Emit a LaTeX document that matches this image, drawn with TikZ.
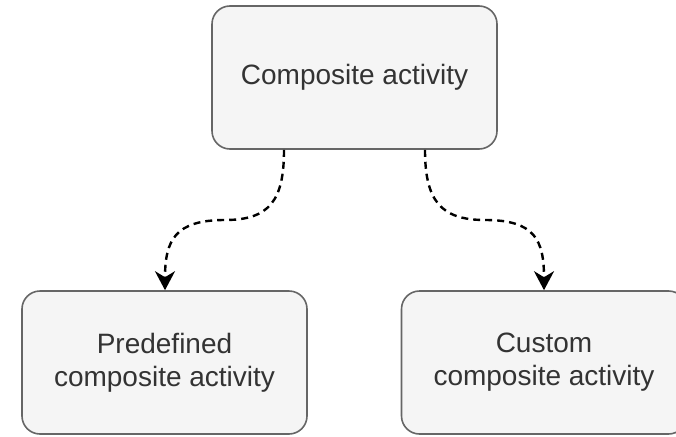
\documentclass[tikz,border=0pt]{standalone}
\usepackage{fontspec}
\setmainfont{Liberation Sans}
\usetikzlibrary{arrows.meta}
\definecolor{boxfill}{HTML}{F5F5F5}
\definecolor{boxline}{HTML}{666666}
\definecolor{txt}{HTML}{333333}
\begin{document}
\begin{tikzpicture}[x=1pt,y=-1pt,
  activity/.style={draw=boxline, fill=boxfill, line width=1.6pt, rounded corners=18pt,
    minimum width=285pt, minimum height=143pt, inner sep=0pt, align=center,
    text=txt, font=\fontsize{28}{33}\selectfont},
  link/.style={dash pattern=on 7pt off 5pt, line width=2.4pt, black,
    -{Stealth[length=19pt,width=20pt,inset=6pt]}}]
\useasboundingbox (0,0) rectangle (676,436);
\node[activity] (top) at (354.5,77.5) {Composite activity};
\node[activity] (pre) at (164.5,362.5) {Predefined\\composite activity};
\node[activity] (cus) at (544,362.5) {Custom\\composite activity};
\coordinate (ml) at (225,220);
\coordinate (mr) at (485,220);
\draw[link] ([xshift=-70.5pt]top.south) .. controls +(0,50) and (270,220) .. (ml)
  .. controls (175,220) and ([xshift=0.5pt,yshift=50pt]pre.north) .. ([xshift=0.5pt]pre.north);
\draw[link] ([xshift=70.5pt]top.south) .. controls +(0,50) and (440,220) .. (mr)
  .. controls (535,220) and ([yshift=50pt]cus.north) .. (cus.north);
\end{tikzpicture}
\end{document}
